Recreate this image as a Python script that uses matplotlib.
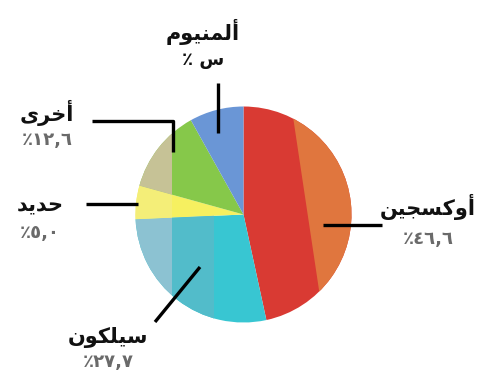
import matplotlib
matplotlib.use("Agg")
import matplotlib.pyplot as plt
from matplotlib.patches import Polygon

# earth crust composition (clockwise from 12 o'clock)
elements = ["oxygen", "silicon", "iron", "other", "aluminium"]
values = [46.6, 27.7, 5.0, 12.6, 8.1]
# arabic labels, pre-shaped (presentation forms, visual order)
names = ["\ufee6\ufef4\ufea0\ufeb4\ufedb\ufeed\ufe83",   # oxygen
         "\ufee5\ufeee\ufedc\ufee0\ufef4\ufeb3",         # silicon
         "\ufeaa\ufef3\ufeaa\ufea3",                     # iron
         "\ufeef\ufeae\ufea7\ufe83",                     # other
         "\ufee1\ufeee\ufef4\ufee8\ufee4\ufedf\ufe83"]   # aluminium
percents = ["\u066a\u0664\u0666,\u0666", "\u066a\u0662\u0667,\u0667",
            "\u066a\u0665,\u0660", "\u066a\u0661\u0662,\u0666", "\u066a \ufeb1"]

main_colors = ["#d93a33", "#38c6d2", "#f6f060", "#86c84a", "#6a96d6"]
left_colors = [None, "#8cc2d2", "#f4ee78", "#c6c296", None]
mid_colors = [None, "#52bcca", None, None, None]
right_colors = ["#e0763e", None, None, None, None]

W, H = 478, 374
fig = plt.figure(figsize=(W / 100, H / 100), dpi=100)
ax = fig.add_axes([0, 0, 1, 1])

cx, cy, r = 243.5, H - 214.5, 108

def draw_pie(colors, clip=None):
    wedges, _ = ax.pie(values, colors=[c if c else "none" for c in colors],
                       startangle=90, counterclock=False, center=(cx, cy),
                       radius=r, wedgeprops=dict(linewidth=0))
    for w, c in zip(wedges, colors):
        if c is None:
            w.set_visible(False)
        elif clip is not None:
            w.set_clip_on(True)
            w.set_clip_path(clip)

# flat colours, then shading bands clipped on top
draw_pie(main_colors)
left_band = Polygon([(0, 0), (172, 0), (172, H), (0, H)], transform=ax.transData)
draw_pie(left_colors, left_band)
mid_band = Polygon([(172, 0), (214, 0), (214, H), (172, H)], transform=ax.transData)
draw_pie(mid_colors, mid_band)
right_band = Polygon([(292, H), (292, H - 110), (322, H - 310), (322, 0), (W, 0), (W, H)],
                     transform=ax.transData)
draw_pie(right_colors, right_band)

ax.set_xlim(0, W)
ax.set_ylim(0, H)
ax.set_aspect("auto")
ax.axis("off")

# leader lines (pixel coords, y from top)
lines = [
    ([323, 382], [225, 225]),             # oxygen
    ([200, 155], [267, 322]),             # silicon
    ([86, 138], [204, 204]),              # iron
    ([92, 173, 173], [121, 121, 152]),    # other
    ([218, 218], [83, 133]),              # aluminium
]
for xs, ys in lines:
    ax.plot(xs, [H - y for y in ys], color="black", lw=2.4, solid_capstyle="butt")

# label positions: (x, name y, percent y)
label_pos = [(428, 207, 239), (108, 337, 362), (40, 205, 233), (47, 113, 140), (203, 32, 60)]
for i in range(len(values)):
    x, yn, yp = label_pos[i]
    ax.text(x, H - yn, names[i], ha="center", va="center", fontsize=15,
            fontweight="bold", family=["DejaVu Sans"], color="#111111")
    pc = "#111111" if i == 4 else "#6a6a6a"
    ax.text(x, H - yp, percents[i], ha="center", va="center", fontsize=13,
            fontweight="bold", family=["DejaVu Sans"], color=pc)

fig.savefig("out.png", dpi=100)
